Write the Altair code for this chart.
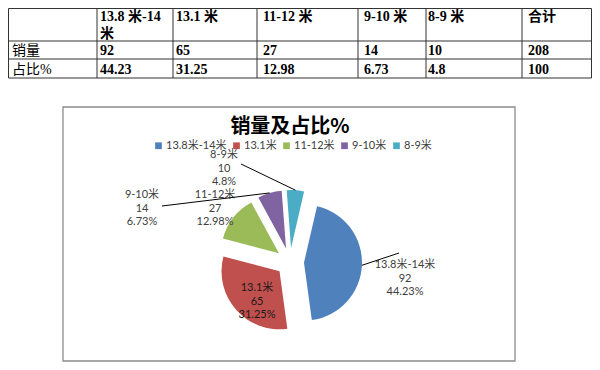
import math
import altair as alt
import pandas as pd

# ---------------- data ----------------
categories = ["13.8米-14米", "13.1米", "11-12米", "9-10米", "8-9米"]
table_headers = ["13.8 米-14\n米", "13.1 米", "11-12 米", "9-10 米", "8-9 米", "合计"]
row_labels = ["销量", "占比%"]
sales = [92, 65, 27, 14, 10]
shares = [44.23, 31.25, 12.98, 6.73, 4.8]
sales_total = 208
shares_total = 100
chart_title = "销量及占比%"
colors = ["#4F81BD", "#C0504D", "#9BBB59", "#8064A2", "#4BACC6"]

# ---------------- layout (plot-area pixels) ----------------
W, H = 584, 354
col_edges = [0.5, 89, 165, 249, 350, 418, 514, 583.5]
row_edges = [0.5, 33, 51, 70]
text_x = [4, 92, 168, 255, 356, 420, 520]
header_line_y = [9, 26]
row_text_y = [43, 61.5]
frame_box = [55, 99, 507, 353]
title_pos = [282, 119]
PIE_CX, PIE_CY, PIE_R, EXPLODE = 282, 254, 58, 14
ROT = math.radians(13)
label_off = [(115, 3), (-33, 26), (-75, -67), (-148, -67), (-66, -107)]
leader_end = [(109, -9), None, None, (-128, -56), (-49, -98)]
label_colors = ["#404040", "#1a1a1a", "#404040", "#404040", "#404040"]

SERIF = "Liberation Serif, 'Noto Sans CJK SC'"
LABEL_FONT = "Lato, 'Noto Sans CJK SC'"
CJK = "'Noto Sans CJK SC'"

# ---------------- table ----------------
cells = []
for i, h in enumerate(table_headers):
    for j, line in enumerate(h.split("\n")):
        cells.append({"x": text_x[i + 1], "y": header_line_y[j], "t": line, "bold": 1})
rows_vals = [sales + [sales_total], shares + [shares_total]]
for r, lab in enumerate(row_labels):
    cells.append({"x": text_x[0], "y": row_text_y[r], "t": lab, "bold": 0})
    for c, v in enumerate(rows_vals[r]):
        cells.append({"x": text_x[c + 1], "y": row_text_y[r], "t": str(v), "bold": 1})
cells_df = pd.DataFrame(cells)

segs = []
for y in row_edges:
    segs.append({"x1": col_edges[0], "y1": y, "x2": col_edges[-1], "y2": y})
for x in col_edges:
    segs.append({"x1": x, "y1": row_edges[0], "x2": x, "y2": row_edges[-1]})
segs_df = pd.DataFrame(segs)

def px(f):
    return alt.X(f, type="quantitative", scale=None, axis=None)

def py(f):
    return alt.Y(f, type="quantitative", scale=None, axis=None)

grid = alt.Chart(segs_df).mark_rule(color="#333333", strokeWidth=1).encode(
    x=px("x1"), y=py("y1"), x2="x2:Q", y2="y2:Q")

tbl_bold = alt.Chart(cells_df).transform_filter("datum.bold == 1").mark_text(
    font=SERIF, fontSize=14, fontWeight="bold", align="left", baseline="middle", color="#000000"
).encode(x=px("x"), y=py("y"), text="t:N")
tbl_norm = alt.Chart(cells_df).transform_filter("datum.bold == 0").mark_text(
    font=SERIF, fontSize=14, align="left", baseline="middle", color="#000000"
).encode(x=px("x"), y=py("y"), text="t:N")

# ---------------- chart frame & title ----------------
frame_df = pd.DataFrame([{"x1": frame_box[0], "y1": frame_box[1], "x2": frame_box[2], "y2": frame_box[3]}])
frame = alt.Chart(frame_df).mark_rect(fill="white", stroke="#8c8c8c", strokeWidth=1.3).encode(
    x=px("x1"), y=py("y1"), x2="x2:Q", y2="y2:Q")

title_df = pd.DataFrame([{"x": title_pos[0], "y": title_pos[1], "t": chart_title}])
title = alt.Chart(title_df).mark_text(font=CJK, fontSize=20, fontWeight="bold", color="#000000",
                                      align="center", baseline="middle").encode(
    x=px("x"), y=py("y"), text="t:N")

# ---------------- pie ----------------
pie_df = pd.DataFrame({
    "category": categories,
    "sales": sales,
    "share": shares,
    "order": list(range(len(categories))),
    "ldx": [o[0] for o in label_off],
    "ldy": [o[1] for o in label_off],
    "edx": [e[0] if e else None for e in leader_end],
    "edy": [e[1] if e else None for e in leader_end],
    "lcolor": label_colors,
})

base = alt.Chart(pie_df).transform_joinaggregate(
    total="sum(sales)"
).transform_window(
    cum="sum(sales)", sort=[alt.SortField("order", order="ascending")], frame=[None, 0]
).transform_calculate(
    start="datum.cum - datum.sales",
    mid=f"(datum.cum - datum.sales / 2) / datum.total * 2 * PI + {ROT}",
).transform_calculate(
    cx=f"{PIE_CX} + {EXPLODE} * sin(datum.mid)",
    cy=f"{PIE_CY} - {EXPLODE} * cos(datum.mid)",
    sx=f"{PIE_CX} + {EXPLODE + PIE_R} * sin(datum.mid)",
    sy=f"{PIE_CY} - {EXPLODE + PIE_R} * cos(datum.mid)",
    lx=f"{PIE_CX} + datum.ldx",
    ly=f"{PIE_CY} + datum.ldy",
    ex=f"{PIE_CX} + datum.edx",
    ey=f"{PIE_CY} + datum.edy",
    label="datum.category + '\\n' + datum.sales + '\\n' + datum.share + '%'",
)

arcs = base.mark_arc(radius=PIE_R, strokeWidth=0).encode(
    theta=alt.Theta("start:Q", stack=None,
                    scale=alt.Scale(domain=[0, sales_total], range=[ROT, ROT + 2 * math.pi])),
    theta2="cum:Q",
    x=px("cx"),
    y=py("cy"),
    color=alt.Color("category:N", sort=categories,
                    scale=alt.Scale(domain=categories, range=colors),
                    legend=alt.Legend(orient="none", legendX=145, legendY=132,
                                      direction="horizontal", title=None,
                                      symbolType="square", symbolSize=45,
                                      symbolStrokeWidth=0, labelFont=LABEL_FONT,
                                      labelFontSize=11, labelColor="#404040",
                                      columnPadding=4, labelOffset=2)),
)

labels = base.mark_text(font=LABEL_FONT, fontSize=11, lineBreak="\n", lineHeight=13.5,
                        align="center", baseline="middle").encode(
    x=px("lx"), y=py("ly"), text="label:N", color=alt.Color("lcolor:N", scale=None))

leaders = base.transform_filter("isValid(datum.edx)").mark_rule(color="#000000", strokeWidth=1).encode(
    x=px("sx"), y=py("sy"), x2="ex:Q", y2="ey:Q")

chart = alt.layer(frame, grid, tbl_bold, tbl_norm, title, arcs, labels, leaders).properties(
    width=W, height=H, autosize="none", padding=0, background="white"
).configure_view(stroke=None)

chart.save("out.html", embed_options={"renderer": "svg", "actions": False})
